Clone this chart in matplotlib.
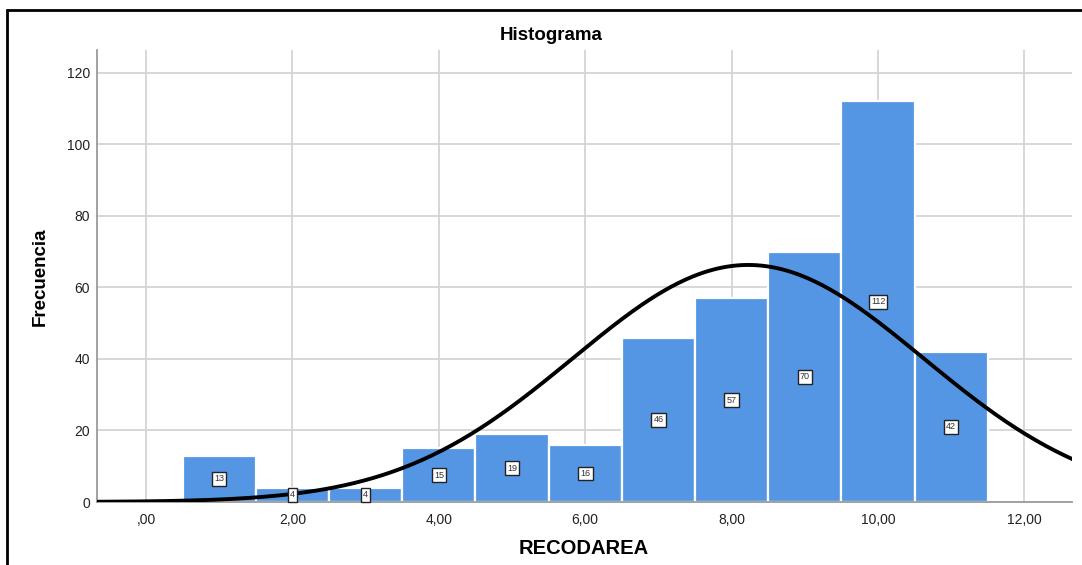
import numpy as np
import matplotlib
matplotlib.use("Agg")
import matplotlib.pyplot as plt
from matplotlib.patches import Rectangle

plt.rcParams['font.family'] = ['Liberation Sans', 'DejaVu Sans']

# Frequency table of RECODAREA (bin centres and counts)
bin_centers = [1, 2, 3, 4, 5, 6, 7, 8, 9, 10, 11]
counts = [13, 4, 4, 15, 19, 16, 46, 57, 70, 112, 42]
x_ticks = [0, 2, 4, 6, 8, 10, 12]
x_tick_labels = [",00", "2,00", "4,00", "6,00", "8,00", "10,00", "12,00"]
y_ticks = [0, 20, 40, 60, 80, 100, 120]

bar_color = "#5596e4"
grid_color = "#d4d4d4"

fig = plt.figure(figsize=(10.82, 5.65), dpi=100)
ax = fig.add_axes([97 / 1082, 1 - 502 / 565, (1072 - 97) / 1082, (502 - 50) / 565])

ax.set_xlim(-0.67, 12.65)
ax.set_ylim(0, 126.4)

ax.set_xticks(x_ticks)
ax.set_xticklabels(x_tick_labels)
ax.set_yticks(y_ticks)
ax.grid(True, color=grid_color, linewidth=1.3, zorder=0)
ax.set_axisbelow(True)
ax.tick_params(axis='both', length=0, labelsize=10, colors="#222222", pad=8)
ax.tick_params(axis='y', pad=5)

for side in ("top", "right"):
    ax.spines[side].set_visible(False)
ax.spines["left"].set_color("#9a9a9a")
ax.spines["left"].set_linewidth(1.3)
ax.spines["bottom"].set_color("#9a9a9a")
ax.spines["bottom"].set_linewidth(1.3)

ax.bar(bin_centers, counts, width=1.0, color=bar_color, edgecolor="white",
       linewidth=1.6, zorder=2)

# Fitted normal curve scaled to the histogram
n = sum(counts)
mean = sum(c * x for c, x in zip(counts, bin_centers)) / n
sd = np.sqrt(sum(c * (x - mean) ** 2 for c, x in zip(counts, bin_centers)) / (n - 1))
xs = np.linspace(-0.67, 12.65, 400)
ys = n * 1.0 / (sd * np.sqrt(2 * np.pi)) * np.exp(-0.5 * ((xs - mean) / sd) ** 2)
ax.plot(xs, ys, color="black", linewidth=2.8, zorder=3, clip_on=True)

# Count labels in the middle of each bar
for x, c in zip(bin_centers, counts):
    ax.text(x, c / 2, str(c), ha="center", va="center", fontsize=6.5, color="#333333",
            zorder=4,
            bbox=dict(boxstyle="square,pad=0.25", facecolor="white",
                      edgecolor="#222222", linewidth=1.0))

fig.text(551 / 1082, 1 - 36 / 565, "Histograma", ha="center", va="center",
         fontsize=13.5, fontweight="bold")
fig.text(584 / 1082, 1 - 548 / 565, "RECODAREA", ha="center", va="center",
         fontsize=14.5, fontweight="bold")
fig.text(40 / 1082, 1 - 277 / 565, "Frecuencia", ha="center", va="center",
         rotation=90, fontsize=13.5, fontweight="bold")

# Outer frame around the chart
fig.patches.append(Rectangle((7 / 1082, -0.05), 1.1, 1 - 10 / 565 + 0.05,
                             transform=fig.transFigure, fill=False,
                             edgecolor="black", linewidth=2.0))

fig.savefig("out.png", dpi=100)
